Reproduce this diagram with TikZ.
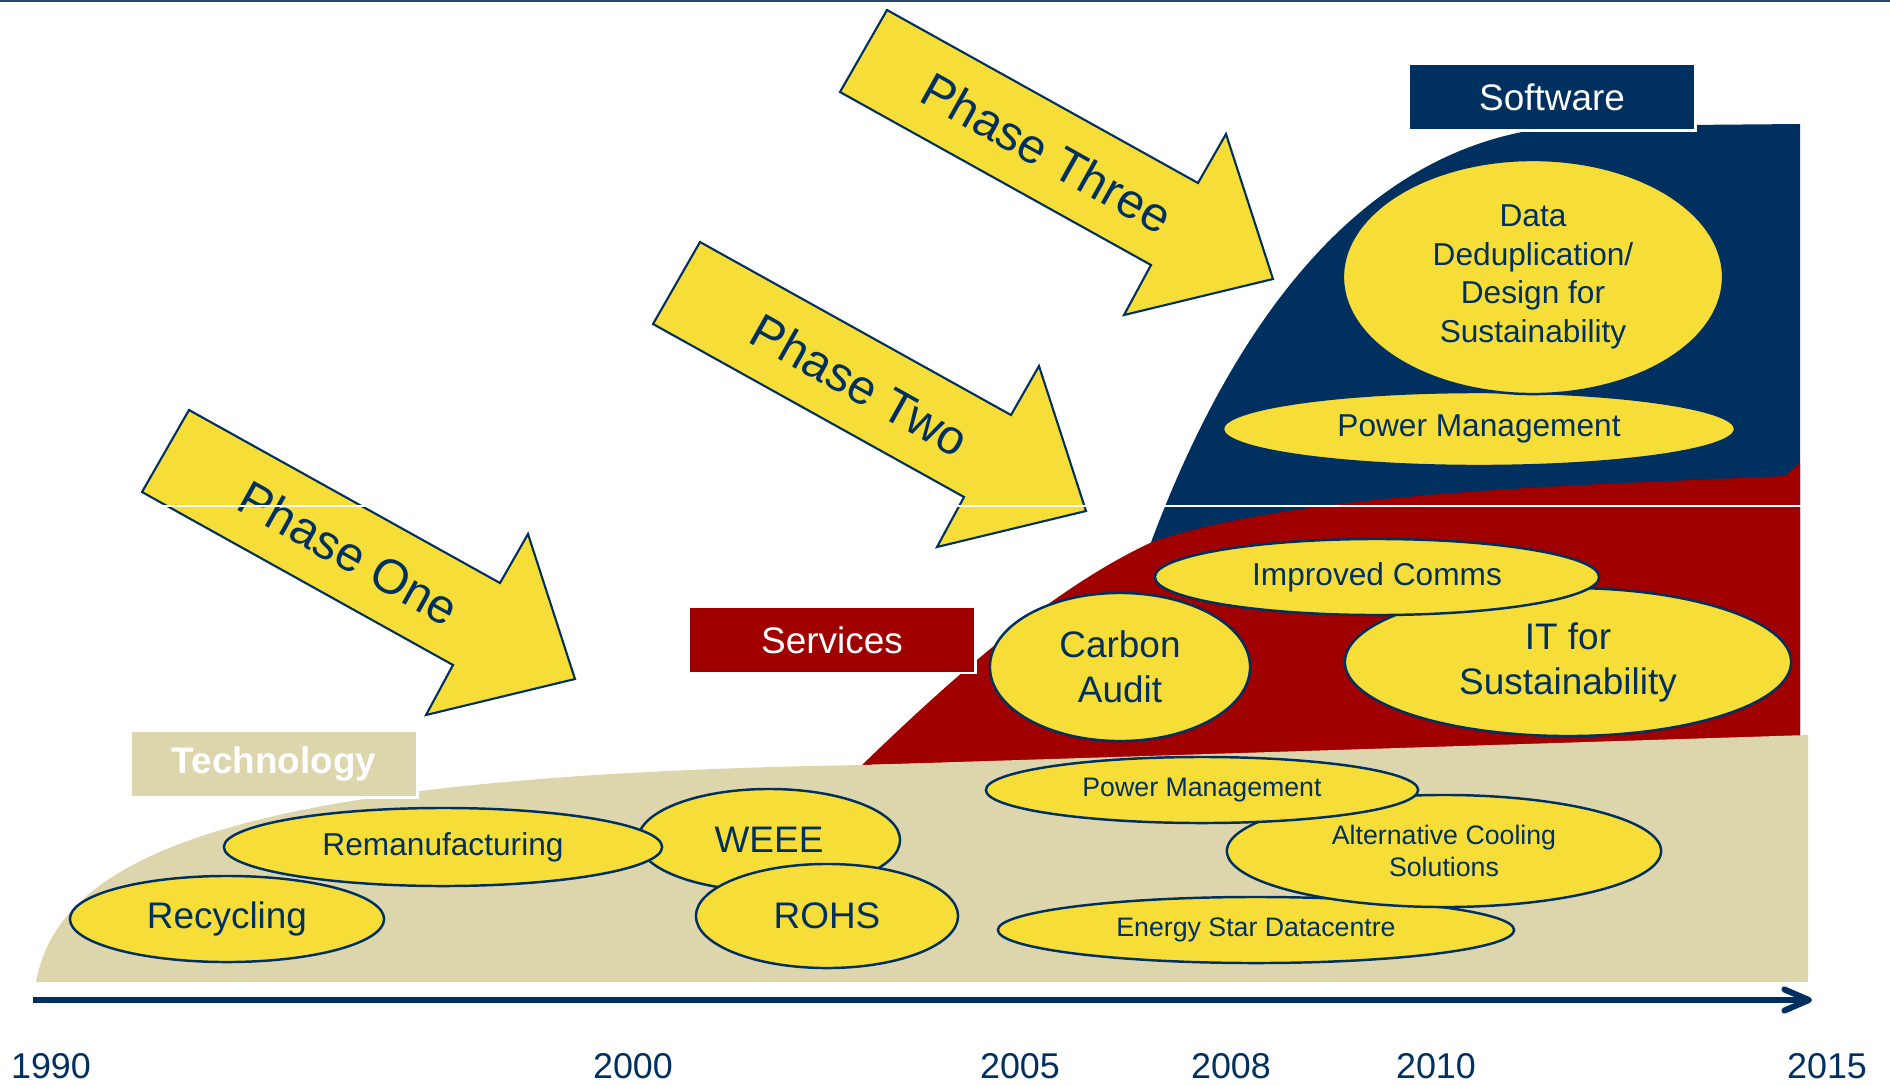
\documentclass[tikz,border=0pt]{standalone}
\usepackage{fontspec}
\setmainfont{Liberation Sans}
\usetikzlibrary{shapes.geometric,arrows.meta}

\definecolor{navy}{RGB}{0,48,96}
\definecolor{servicered}{RGB}{160,0,0}
\definecolor{techtan}{RGB}{221,214,173}
\definecolor{sunyellow}{RGB}{247,221,56}

\newcommand{\sizeL}{\fontsize{10.5}{12.8}\selectfont}
\newcommand{\sizeM}{\fontsize{9}{11}\selectfont}
\newcommand{\sizeS}{\fontsize{7.6}{9.3}\selectfont}
\newcommand{\sizeP}{\fontsize{13.8}{16.5}\selectfont}

\begin{document}
\begin{tikzpicture}[x=0.01cm,y=-0.01cm,
    bubble/.style={ellipse,draw=navy,line width=0.7pt,fill=sunyellow,text=navy,inner sep=0pt,align=center},
    phasearrow/.style={draw=navy,line width=0.6pt,fill=sunyellow},
    phasetext/.style={text=navy,font=\sizeP,rotate=-29.2},
    tag/.style={rectangle,inner sep=0pt,minimum width=2.83cm,minimum height=0.63cm,text=white,font=\sizeL},
    year/.style={text=navy,font=\fontsize{10.2}{12}\selectfont},
  ]
  \useasboundingbox (0,0) rectangle (1890,1084);

  % Top rule
  \draw[navy!70!gray,line width=0.6pt] (0,1) -- (1890,1);

  % Software area
  \fill[navy] (1150,545) .. controls (1230,330) and (1360,140) .. (1567,126) -- (1800,124) -- (1800,740) -- (1150,740) -- cycle;
  % Services area
  \fill[servicered] (862,765) .. controls (950,680) and (1050,590) .. (1150,543)
    .. controls (1300,490) and (1600,485) .. (1785,476) -- (1800,463) -- (1800,740) -- cycle;
  % Technology area
  \fill[techtan] (36,982) .. controls (60,850) and (250,775) .. (862,765) -- (1808,735) -- (1808,982) -- cycle;

  % Draw the labels
  \fill[white] (1413,69) rectangle (1697,132);
  \node[tag,fill=navy] (software) at (1552,97) {Software};
  \fill[white] (694,612) rectangle (977,674);
  \node[tag,fill=servicered] (services) at (832,640) {Services};
  \fill[white] (136,736) rectangle (419,799);
  \node[tag,fill=techtan,font=\sizeL\bfseries] (technology) at (274,764) {Technology};

  % Draw the phase arrows
  \draw[phasearrow] (189,410) -- (500,583) -- (528,534) -- (575,679) -- (426,715) -- (453,665) -- (142,492) -- cycle;
  \node[phasetext] (phaseone) at (349,553) {Phase One};
  \draw[phasearrow] (700,242) -- (1011,415) -- (1039,366) -- (1086,511) -- (937,547) -- (964,497) -- (653,324) -- cycle;
  \node[phasetext] (phasetwo) at (860,385) {Phase Two};
  \draw[phasearrow] (887,10) -- (1198,183) -- (1226,134) -- (1273,279) -- (1124,315) -- (1151,265) -- (840,92) -- cycle;
  \node[phasetext] (phasethree) at (1047,153) {Phase Three};

  % Technology bubbles
  \node[bubble,minimum width=3.14cm,minimum height=0.86cm,font=\sizeL] (recycling) at (227,919) {Recycling};
  \node[bubble,minimum width=2.62cm,minimum height=1.02cm,font=\sizeL] (weee) at (769,840) {WEEE};
  \node[bubble,minimum width=4.38cm,minimum height=0.78cm,font=\sizeM] (reman) at (443,847) {Remanufacturing};
  \node[bubble,minimum width=2.62cm,minimum height=1.04cm,font=\sizeL] (rohs) at (827,916) {ROHS};
  \node[bubble,minimum width=5.16cm,minimum height=0.66cm,font=\sizeS] (energystar) at (1256,930) {Energy Star Datacentre};
  \node[bubble,minimum width=4.34cm,minimum height=1.12cm,font=\sizeS] (cooling) at (1444,851) {Alternative Cooling\\Solutions};
  \node[bubble,minimum width=4.32cm,minimum height=0.66cm,font=\sizeS] (powertech) at (1202,790) {Power Management};

  % Services bubbles
  \node[bubble,minimum width=2.60cm,minimum height=1.48cm,font=\sizeL] (carbon) at (1120,667) {Carbon\\Audit};
  \node[bubble,minimum width=4.46cm,minimum height=1.48cm,font=\sizeL] (itsust) at (1568,662) {IT for\\Sustainability};
  \node[bubble,minimum width=4.44cm,minimum height=0.76cm,font=\sizeM] (comms) at (1377,577) {Improved Comms};

  % Software bubbles
  \node[bubble,minimum width=5.12cm,minimum height=0.74cm,font=\sizeM] (powersoft) at (1479,429) {Power Management};
  \node[bubble,minimum width=3.80cm,minimum height=2.34cm,font=\sizeM] (dedup) at (1533,277) {Data\\Deduplication/\\Design for\\Sustainability};

  % Seam
  \draw[white,line width=0.3pt] (0,506) -- (1890,506);

  % Draw the time axis
  \coordinate (tstart) at (33,1000);
  \coordinate (tend) at (1812,1000);
  \draw[navy,line width=1.7pt,-{Straight Barb[length=7pt,width=6pt,round]}] (tstart) -- (tend);

  % Draw time labels
  \node[year] (y1990) at (51,1066) {1990};
  \node[year] (y2000) at (633,1066) {2000};
  \node[year] (y2005) at (1020,1066) {2005};
  \node[year] (y2008) at (1231,1066) {2008};
  \node[year] (y2010) at (1436,1066) {2010};
  \node[year] (y2015) at (1827,1066) {2015};
\end{tikzpicture}
\end{document}
